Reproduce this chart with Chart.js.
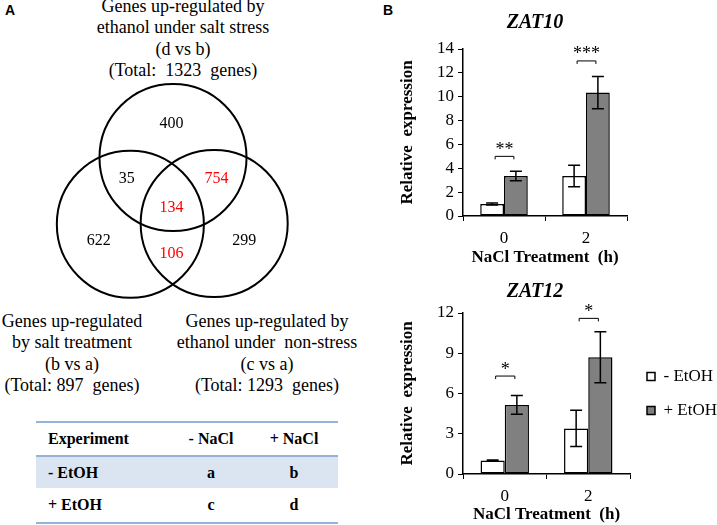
<!DOCTYPE html>
<html>
<head>
<meta charset="utf-8">
<title>Ethanol and salt stress: Venn diagram and ZAT10 / ZAT12 expression</title>
<script src="https://cdn.jsdelivr.net/npm/chart.js@4.4.1/dist/chart.umd.min.js"></script>
<style>
  html, body { margin: 0; padding: 0; background: #fff; }
  #page { position: relative; width: 717px; height: 525px; overflow: hidden;
          font-family: 'Liberation Serif', 'Times New Roman', serif; color: #000; }
  .panel { position: absolute; font-family: 'Liberation Sans', Arial, sans-serif;
           font-weight: bold; font-size: 14px; line-height: 14px; }
  .txt { position: absolute; text-align: center; font-size: 18px; line-height: 21.3px; white-space: pre; }
  canvas { position: absolute; }
  #design { position: absolute; left: 36px; top: 421px; width: 302px; border-collapse: collapse;
            table-layout: fixed; font-weight: bold; font-size: 16px; }
  #design td { padding: 0; box-sizing: border-box; }
</style>
</head>
<body>
<div id="page">
  <div class="panel" style="left:5px;top:3px">A</div>
  <div class="panel" style="left:383px;top:3px">B</div>

  <div class="txt" style="left:83px;top:-4px;width:200px">Genes up-regulated by
ethanol under salt stress
(d vs b)
(Total:  1323  genes)</div>
  <div class="txt" style="left:0px;top:311px;width:144px">Genes up-regulated
by salt treatment
(b vs a)
(Total: 897  genes)</div>
  <div class="txt" style="left:172px;top:311px;width:190px">Genes up-regulated by
ethanol under  non-stress
(c vs a)
(Total: 1293  genes)</div>

  <canvas id="venn" width="250" height="235" style="left:48px;top:73px"></canvas>
  <table id="design"></table>

  <canvas id="zat10" width="337" height="268" style="left:380px;top:0px"></canvas>
  <canvas id="zat12" width="337" height="257" style="left:380px;top:268px"></canvas>
</div>

<script>
// ---- panel A: Venn diagram (circle centres / radius in diagram units) ----
const vennCx = [0, -0.58, 0.56];
const vennCy = [0.45, -0.46, -0.45];
const vennR = 1;
const regionCounts = ['400', '35', '754', '134', '622', '299', '106'];
const regionX = [-0.02, -0.63, 0.59, -0.02, -1.01, 0.97, -0.02];
const regionY = [0.91, 0.16, 0.16, -0.23, -0.69, -0.68, -0.86];
const regionRed = [false, false, true, true, false, false, true];

// ---- experiment table ----
const tableHead = ['Experiment', '- NaCl', '+ NaCl'];
const tableRows = [
  ['- EtOH', 'a', 'b'],
  ['+ EtOH', 'c', 'd']
];
const tableColW = [136, 78, 88];

// ---- panel B: qRT-PCR ----
const groups = ['0', '2'];
const seriesNames = ['- EtOH', '+ EtOH'];

const zat10Minus = [1.0, 3.35];
const zat10Plus = [3.35, 10.35];
const zat10MinusErr = [0.08, 0.9];
const zat10PlusErr = [0.4, 1.35];
const zat10Stars = ['**', '***'];
const zat10Bracket = [5.0, 13.0];
const zat10Ticks = [0, 14, 2];

const zat12Minus = [1.0, 3.4];
const zat12Plus = [5.15, 8.7];
const zat12MinusErr = [0.05, 1.35];
const zat12PlusErr = [0.7, 1.9];
const zat12Stars = ['*', '*'];
const zat12Bracket = [7.3, 11.6];
const zat12Ticks = [0, 12, 3];

Chart.defaults.font.family = "'Liberation Serif', 'Times New Roman', serif";
Chart.defaults.color = '#000';

// table
const table = document.getElementById('design');
const headRow = table.insertRow();
headRow.style.height = '34px';
headRow.style.borderTop = '2px solid #95b3d7';
headRow.style.borderBottom = '2px solid #95b3d7';
tableHead.forEach((h, i) => {
  const td = headRow.insertCell();
  td.textContent = h;
  td.style.width = tableColW[i] + 'px';
  td.style.textAlign = i === 0 ? 'left' : 'center';
  if (i === 0) td.style.paddingLeft = '12px';
});
tableRows.forEach((r, ri) => {
  const tr = table.insertRow();
  tr.style.height = ri === 0 ? '32px' : '35px';
  if (ri === 0) tr.style.background = '#dbe5f1';
  if (ri === tableRows.length - 1) tr.style.borderBottom = '2px solid #95b3d7';
  r.forEach((c, i) => {
    const td = tr.insertCell();
    td.textContent = c;
    td.style.textAlign = i === 0 ? 'left' : 'center';
    if (i === 0) td.style.paddingLeft = '12px';
  });
});

// venn
const vennLabels = {
  id: 'vennLabels',
  afterDatasetsDraw(chart) {
    const {ctx, scales: {x, y}} = chart;
    ctx.save();
    ctx.font = "16px 'Liberation Serif'";
    ctx.textAlign = 'center';
    ctx.textBaseline = 'middle';
    regionCounts.forEach((t, i) => {
      ctx.fillStyle = regionRed[i] ? '#ff0000' : '#000';
      ctx.fillText(t, x.getPixelForValue(regionX[i]), y.getPixelForValue(regionY[i]));
    });
    ctx.restore();
  }
};

const radiusPx = ctx => {
  const s = ctx.chart.scales.x;
  return Math.abs(s.getPixelForValue(vennR) - s.getPixelForValue(0));
};

new Chart(document.getElementById('venn'), {
  type: 'scatter',
  data: {
    datasets: [{
      data: vennCx.map((cx, i) => ({x: cx, y: vennCy[i]})),
      pointRadius: radiusPx,
      pointHoverRadius: radiusPx,
      pointBorderWidth: 2,
      pointBorderColor: '#000',
      pointBackgroundColor: 'rgba(0,0,0,0)',
      clip: false
    }]
  },
  options: {
    responsive: false,
    animation: false,
    devicePixelRatio: 1,
    events: [],
    layout: {padding: 0},
    plugins: {legend: {display: false}, tooltip: {enabled: false}},
    scales: {
      x: {type: 'linear', min: -1.7, max: 1.7, display: false},
      y: {type: 'linear', min: -1.6, max: 1.6, display: false}
    }
  },
  plugins: [vennLabels]
});

// error bars + significance brackets
const errorBars = {
  id: 'errorBars',
  afterDatasetsDraw(chart, args, opts) {
    const {ctx} = chart;
    const y = chart.scales.y;
    ctx.save();
    ctx.strokeStyle = '#000';
    ctx.lineWidth = 1.5;
    chart.data.datasets.forEach((ds, di) => {
      chart.getDatasetMeta(di).data.forEach((bar, i) => {
        const v = ds.data[i], e = opts.errors[di][i];
        const top = y.getPixelForValue(v + e), bot = y.getPixelForValue(v - e);
        ctx.beginPath();
        ctx.moveTo(bar.x, top); ctx.lineTo(bar.x, bot);
        ctx.moveTo(bar.x - 6, top); ctx.lineTo(bar.x + 6, top);
        ctx.moveTo(bar.x - 6, bot); ctx.lineTo(bar.x + 6, bot);
        ctx.stroke();
      });
    });
    const m0 = chart.getDatasetMeta(0).data, m1 = chart.getDatasetMeta(1).data;
    ctx.lineWidth = 1;
    ctx.font = "18px 'Liberation Serif'";
    ctx.fillStyle = '#000';
    ctx.textAlign = 'center';
    ctx.textBaseline = 'alphabetic';
    opts.bracket.forEach((b, i) => {
      const yy = y.getPixelForValue(b);
      const x0 = m0[i].x + 3, x1 = m1[i].x - 2;
      ctx.beginPath();
      ctx.moveTo(x0, yy + 3); ctx.lineTo(x0, yy); ctx.lineTo(x1, yy); ctx.lineTo(x1, yy + 3);
      ctx.stroke();
      ctx.fillText(opts.stars[i], (x0 + x1) / 2, yy - 1.5);
    });
    ctx.restore();
  }
};

// layout.padding.left is negative so that the gene title centres where the original does
function barChart(id, gene, minus, plus, minusErr, plusErr, stars, bracket, ticks, cfg) {
  const scales = {
    x: {
      type: 'category',
      offset: true,
      grid: {offset: true, drawOnChartArea: false, tickLength: 5, color: '#000', tickColor: '#000'},
      border: {color: '#000', width: 1.5},
      ticks: {font: {size: 17}, color: '#000', padding: 7},
      title: {display: true, text: 'NaCl Treatment  (h)', font: {size: 17, weight: 'bold'}, color: '#000', padding: 0},
      afterFit: s => { s.height = cfg.xAxisH; }
    },
    y: {
      min: ticks[0],
      max: ticks[1],
      ticks: {stepSize: ticks[2], font: {size: 17}, color: '#000', padding: 4},
      grid: {drawOnChartArea: false, tickLength: 5, color: '#000', tickColor: '#000'},
      border: {color: '#000', width: 1.5},
      title: {display: true, text: 'Relative  expression', font: {size: 17, weight: 'bold'}, color: '#000', padding: {top: 44, bottom: 0}},
      afterFit: s => { s.width = 110; }
    }
  };
  if (!cfg.legend) {
    // empty right-hand strip, keeps the plot width equal to the lower chart
    scales.y2 = {
      position: 'right',
      display: true,
      grid: {display: false},
      border: {display: false},
      ticks: {display: false},
      afterFit: s => { s.width = 90; }
    };
  }
  return new Chart(document.getElementById(id), {
    type: 'bar',
    data: {
      labels: groups,
      datasets: [
        {label: seriesNames[0], data: minus, backgroundColor: '#ffffff', borderColor: '#000', borderWidth: 1.5, borderSkipped: false},
        {label: seriesNames[1], data: plus, backgroundColor: '#808080', borderColor: '#000', borderWidth: 1.5, borderSkipped: false}
      ]
    },
    options: {
      responsive: false,
      animation: false,
      devicePixelRatio: 1,
      events: [],
      categoryPercentage: 0.58,
      barPercentage: 1.0,
      layout: {padding: {left: -27, right: 0, top: 4, bottom: 0}},
      plugins: {
        title: {display: true, text: gene, color: '#000',
                font: {size: 20, weight: 'bold', style: 'italic'}, padding: cfg.titlePad},
        legend: cfg.legend ? {
          display: true, position: 'right', fullSize: false, align: 'center', maxWidth: 87,
          labels: {boxWidth: 8, boxHeight: 8, padding: 17, color: '#000', font: {size: 17}}
        } : {display: false},
        tooltip: {enabled: false},
        errorBars: {errors: [minusErr, plusErr], stars: stars, bracket: bracket}
      },
      scales: scales
    },
    plugins: [errorBars]
  });
}

barChart('zat10', 'ZAT10', zat10Minus, zat10Plus, zat10MinusErr, zat10PlusErr, zat10Stars, zat10Bracket, zat10Ticks,
  {legend: false, titlePad: {top: 7, bottom: 14}, xAxisH: 52});
barChart('zat12', 'ZAT12', zat12Minus, zat12Plus, zat12MinusErr, zat12PlusErr, zat12Stars, zat12Bracket, zat12Ticks,
  {legend: true, titlePad: {top: 8, bottom: 9}, xAxisH: 51});
</script>
</body>
</html>
